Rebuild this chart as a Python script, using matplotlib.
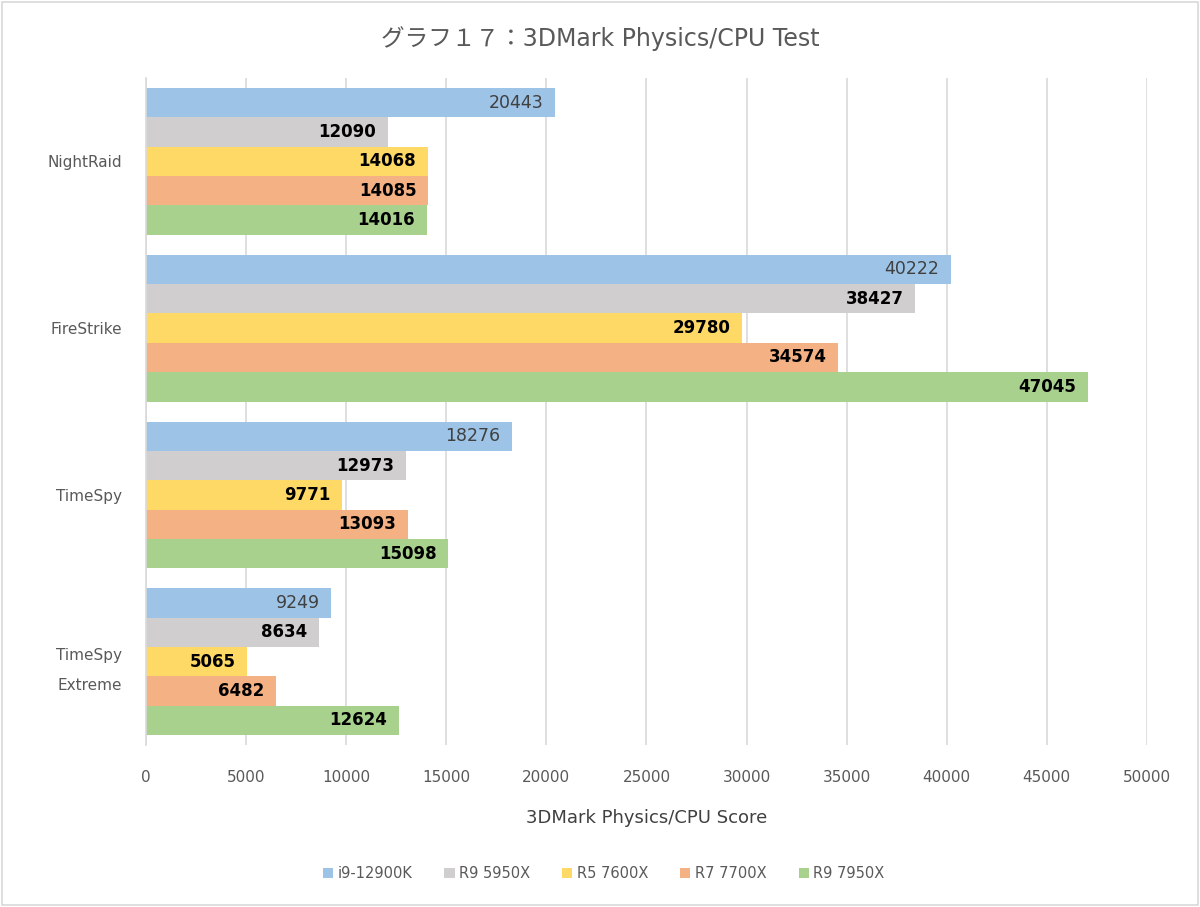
import matplotlib
matplotlib.use('Agg')
import matplotlib.pyplot as plt
import numpy as np

plt.rcParams['font.family'] = ['DejaVu Sans', 'Noto Sans CJK JP']

categories = ['NightRaid', 'FireStrike', 'TimeSpy', 'TimeSpy\nExtreme']
series_names = ['i9-12900K', 'R9 5950X', 'R5 7600X', 'R7 7700X', 'R9 7950X']
i9_12900k = [20443, 40222, 18276, 9249]
r9_5950x = [12090, 38427, 12973, 8634]
r5_7600x = [14068, 29780, 9771, 5065]
r7_7700x = [14085, 34574, 13093, 6482]
r9_7950x = [14016, 47045, 15098, 12624]
colors = ['#9DC3E6', '#D0CECE', '#FFD966', '#F4B183', '#A9D18E']
xticks = [0, 5000, 10000, 15000, 20000, 25000, 30000, 35000, 40000, 45000, 50000]

all_series = [i9_12900k, r9_5950x, r5_7600x, r7_7700x, r9_7950x]

fig = plt.figure(figsize=(12, 9.07), dpi=100)
ax = fig.add_axes([0.1217, 0.1786, 0.834, 0.7354])

y = np.arange(len(categories))
bar_h = 0.176
for i, (vals, name, c) in enumerate(zip(all_series, series_names, colors)):
    pos = y + (i - 2) * bar_h
    bars = ax.barh(pos, vals, height=bar_h, color=c, label=name, zorder=2)
    for b, v in zip(bars, vals):
        # 先頭系列だけ細字・濃い灰色
        if i == 0:
            ax.text(v - 580, b.get_y() + b.get_height() / 2, str(v), ha='right', va='center',
                    fontsize=12.5, color='#404040')
        else:
            ax.text(v - 580, b.get_y() + b.get_height() / 2, str(v), ha='right', va='center',
                    fontsize=12, color='black', fontweight='bold')

ax.set_ylim(3.5, -0.5)
ax.set_xlim(0, 50000)
ax.set_xticks(xticks)
ax.set_xticklabels([str(t) for t in xticks])
ax.set_yticks(y)
ax.set_yticklabels(categories, linespacing=2.25)
ax.tick_params(axis='both', length=0, labelsize=11, colors='#595959')
ax.tick_params(axis='x', pad=18)
ax.tick_params(axis='y', pad=17)
ax.xaxis.grid(True, color='#D9D9D9', linewidth=1.2, zorder=0)
ax.set_axisbelow(True)
for s in ['top', 'right', 'bottom']:
    ax.spines[s].set_visible(False)
ax.spines['left'].set_color('#D9D9D9')
ax.spines['left'].set_linewidth(1.2)

ax.set_xlabel('3DMark Physics/CPU Score', fontsize=13, color='#404040', labelpad=17)
fig.text(0.5, 0.957, 'グラフ１７：3DMark Physics/CPU Test', ha='center', va='center',
         fontsize=17, color='#595959')

fig.legend(loc='center', bbox_to_anchor=(0.503, 0.037), ncol=5, frameon=False,
           fontsize=10.5, labelcolor='#595959', handlelength=0.7, handleheight=0.7,
           handletextpad=0.3, columnspacing=2.2)

# 外枠
fig.patches.append(plt.Rectangle((0.002, 0.002), 0.996, 0.996, transform=fig.transFigure,
                                 fill=False, edgecolor='#D9D9D9', linewidth=1.2))

fig.savefig('out.png', dpi=100)
